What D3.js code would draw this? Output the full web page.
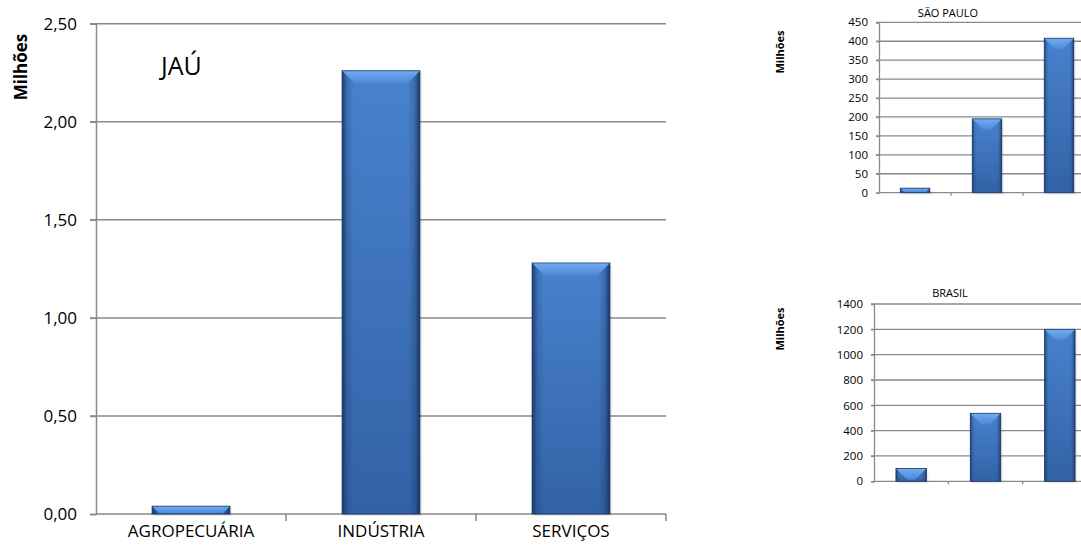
<!DOCTYPE html>
<html><head><meta charset="utf-8">
<script src="https://cdn.jsdelivr.net/npm/d3@7"></script>
<style>
html,body{margin:0;padding:0;background:#fff;}
svg{display:block;font-family:"Open Sans",sans-serif;}
</style></head>
<body><svg id="c" width="1081" height="550"></svg>
<script>
const categories = ["AGROPECUÁRIA", "INDÚSTRIA", "SERVIÇOS"];
const jauValues = [0.04, 2.26, 1.28];
const spValues = [12, 195, 408];
const brValues = [102, 537, 1200];
const jauTicks = [0, 0.5, 1, 1.5, 2, 2.5];
const spTicks = [0, 50, 100, 150, 200, 250, 300, 350, 400, 450];
const brTicks = [0, 200, 400, 600, 800, 1000, 1200, 1400];
const yTitle = "Milhões";
const titles = ["JAÚ", "SÃO PAULO", "BRASIL"];

const svg = d3.select("#c");
const defs = svg.append("defs");
const vg = defs.append("linearGradient").attr("id","vbody").attr("x1",0).attr("y1",0).attr("x2",0).attr("y2",1);
vg.append("stop").attr("offset","0%").attr("stop-color","#4882cd");
vg.append("stop").attr("offset","100%").attr("stop-color","#3262a6");
const hg = defs.append("linearGradient").attr("id","hedge").attr("x1",0).attr("y1",0).attr("x2",1).attr("y2",0);
[[0,"#16325c",0.9],[0.07,"#1d3d6e",0.25],[0.15,"#1d3d6e",0],[0.85,"#1d3d6e",0],[0.93,"#1d3d6e",0.3],[1,"#16325c",0.95]]
 .forEach(s=>hg.append("stop").attr("offset",s[0]).attr("stop-color",s[1]).attr("stop-opacity",s[2]));
const tg = defs.append("linearGradient").attr("id","bevel").attr("x1",0).attr("y1",0).attr("x2",0).attr("y2",1);
tg.append("stop").attr("offset","0%").attr("stop-color","#72acf2");
tg.append("stop").attr("offset","100%").attr("stop-color","#4d8ada");

const fmtComma = d => d3.format(".2f")(d).replace(".", ",");

function drawBars(g, x, y, vals, bevelMax){
  const data = categories.map((c,i)=>({c, v: vals[i]}));
  const bars = g.selectAll("g.bar").data(data).join("g").attr("class","bar");
  bars.each(function(d){
    const b = d3.select(this);
    const x0 = x(d.c), w = x.bandwidth(), y0 = y(d.v), h = y(0) - y(d.v);
    const bv = Math.min(bevelMax, h*0.9, w/2);
    b.append("rect").attr("x",x0+2).attr("y",y0+2).attr("width",w).attr("height",h).attr("fill","#000").attr("opacity",0.08);
    b.append("rect").attr("x",x0).attr("y",y0).attr("width",w).attr("height",h).attr("fill","url(#vbody)");
    b.append("rect").attr("x",x0).attr("y",y0).attr("width",w).attr("height",h).attr("fill","url(#hedge)");
    b.append("path").attr("d",`M${x0},${y0}L${x0+w},${y0}L${x0+w-bv},${y0+bv}L${x0+bv},${y0+bv}Z`).attr("fill","url(#bevel)");
    b.append("rect").attr("x",x0).attr("y",y0).attr("width",w).attr("height",h).attr("fill","none").attr("stroke","#1f3e6c").attr("stroke-width",0.8);
  });
}

function chart(opt){
  const {xr, yr, domain, ticks, vals, fmt, fontSize, tickLen, bevel, gridW, xTick} = opt;
  const x = d3.scaleBand().domain(categories).range(xr).paddingInner(0.59).paddingOuter(0.295);
  const y = d3.scaleLinear().domain(domain).range(yr);
  const g = svg.append("g");
  g.append("g").selectAll("line").data(ticks.filter(t=>t!==0)).join("line")
    .attr("x1",xr[0]-tickLen).attr("x2",xr[1]).attr("y1",d=>y(d)).attr("y2",d=>y(d))
    .attr("stroke","#8a8a8a").attr("stroke-width",gridW);
  const ya = g.append("g").attr("transform",`translate(${xr[0]},0)`)
    .call(d3.axisLeft(y).tickValues(ticks).tickFormat(fmt).tickSize(tickLen).tickPadding(opt.pad));
  ya.select(".domain").attr("stroke","#8a8a8a").attr("stroke-width",gridW);
  ya.selectAll(".tick line").attr("stroke","#8a8a8a").attr("stroke-width",gridW);
  ya.selectAll(".tick text").attr("font-size",fontSize).attr("font-family","'Open Sans',sans-serif").attr("fill","#000");
  const edges = categories.map(c=>x(c)-x.step()*x.paddingInner()/2).concat([xr[1]]);
  g.append("line").attr("x1",xr[0]).attr("x2",xr[1]).attr("y1",y(0)).attr("y2",y(0)).attr("stroke","#8a8a8a").attr("stroke-width",gridW);
  g.append("g").selectAll("line").data(edges.slice(1)).join("line")
    .attr("x1",d=>d).attr("x2",d=>d).attr("y1",y(0)).attr("y2",y(0)+xTick)
    .attr("stroke","#8a8a8a").attr("stroke-width",gridW);
  drawBars(g, x, y, vals, bevel);
  return {g, x, y};
}

// Main JAÚ chart
const main = chart({xr:[96,666], yr:[514,23.7], domain:[0,2.5], ticks:jauTicks, vals:jauValues,
  fmt:fmtComma, fontSize:"17px", tickLen:6, pad:13, bevel:12, gridW:1.5, xTick:7});
main.g.append("g").selectAll("text").data(categories).join("text")
  .attr("x",d=>main.x(d)+main.x.bandwidth()/2).attr("y",537)
  .attr("text-anchor","middle").attr("font-size","17px").attr("fill","#000").text(d=>d);
svg.append("text").attr("x",161).attr("y",75).attr("font-size","25px").attr("fill","#000").text(titles[0]);
svg.append("text").attr("transform","translate(27,67) rotate(-90)").attr("text-anchor","middle")
  .attr("font-size","17px").attr("font-weight","bold").attr("fill","#000").text(yTitle);

// São Paulo
chart({xr:[879,1095], yr:[192.7,22.3], domain:[0,450], ticks:spTicks, vals:spValues,
  fmt:d3.format("d"), fontSize:"11.5px", tickLen:3, pad:8, bevel:11, gridW:1.3, xTick:3});
svg.append("text").attr("x",948).attr("y",17).attr("text-anchor","middle").attr("font-size","11px").attr("fill","#000").text(titles[1]);
svg.append("text").attr("transform","translate(784,52) rotate(-90)").attr("text-anchor","middle")
  .attr("font-size","11px").attr("font-weight","bold").attr("fill","#000").text(yTitle);

// Brasil
chart({xr:[874,1097], yr:[481.3,304], domain:[0,1400], ticks:brTicks, vals:brValues,
  fmt:d3.format("d"), fontSize:"11.5px", tickLen:3, pad:8, bevel:11, gridW:1.3, xTick:3});
svg.append("text").attr("x",950).attr("y",297).attr("text-anchor","middle").attr("font-size","11px").attr("fill","#000").text(titles[2]);
svg.append("text").attr("transform","translate(784,329) rotate(-90)").attr("text-anchor","middle")
  .attr("font-size","11px").attr("font-weight","bold").attr("fill","#000").text(yTitle);
</script></body></html>
